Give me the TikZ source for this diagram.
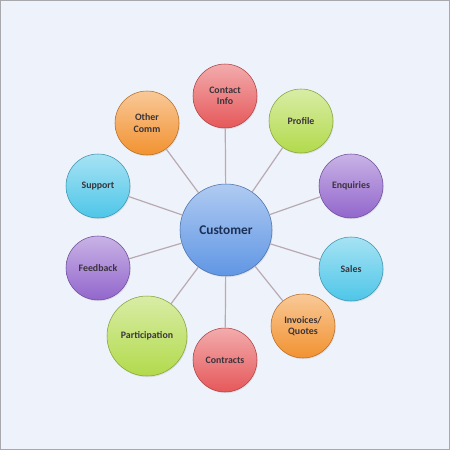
\documentclass[tikz,border=0pt]{standalone}
\usepackage{fontspec}
\setmainfont{Carlito}
\usetikzlibrary{shadows}

\definecolor{bgpanel}{RGB}{238,242,250}
\definecolor{framegray}{RGB}{168,168,172}
\definecolor{linkgray}{RGB}{184,170,178}
\definecolor{labelgray}{RGB}{58,52,60}
\definecolor{custnavy}{RGB}{28,48,86}
\definecolor{ballred}{RGB}{230,88,90}
\definecolor{balllime}{RGB}{178,218,76}
\definecolor{ballpurple}{RGB}{146,102,204}
\definecolor{ballcyan}{RGB}{78,198,232}
\definecolor{ballorange}{RGB}{242,146,48}
\definecolor{ballblue}{RGB}{96,150,228}

\tikzset{every picture/.style={line width=0.75pt}}
\tikzset{
  ball/.style={circle, inner sep=0pt, align=center, minimum size=48pt,
    top color=#1!50!white, bottom color=#1, draw=#1!75!black, line width=0.4pt,
    drop shadow={opacity=0.18, shadow xshift=0.6pt, shadow yshift=-0.9pt},
    text=labelgray, font=\bfseries\fontsize{7.4}{8.6}\selectfont},
  link/.style={draw=linkgray, line width=0.9pt}
}

\begin{document}
\begin{tikzpicture}[x=0.75pt,y=0.75pt,yscale=-1,xscale=1]
\useasboundingbox (0,0) rectangle (450,450);

%Shape: Rectangle (panel)
\draw [fill=bgpanel, draw=framegray, line width=1.1pt] (0.6,0.6) rectangle (449.4,449.4);

%Shape: Circle (hub)
\node [ball=ballblue, minimum size=69pt, text=custnavy, font=\bfseries\fontsize{10}{12}\selectfont] (customer) at (226,230) {Customer};

%Shape: Circle (outer ring)
\node [ball=ballred] (contact) at (225,96) {Contact\\Info};
\node [ball=balllime] (profile) at (301,121) {Profile};
\node [ball=ballpurple] (enquiries) at (351,186) {Enquiries};
\node [ball=ballcyan] (sales) at (351,269) {Sales};
\node [ball=ballorange] (invoices) at (303,326) {Invoices/\\Quotes};
\node [ball=ballred] (contracts) at (225,360) {Contracts};
\node [ball=balllime, minimum size=60pt] (participation) at (147,336) {Participation};
\node [ball=ballpurple] (feedback) at (98,268) {Feedback};
\node [ball=ballcyan] (support) at (98,186) {Support};
\node [ball=ballorange] (othercomm) at (147,123) {Other\\Comm};

%Straight Lines
\foreach \n in {contact,profile,enquiries,sales,invoices,contracts,participation,feedback,support,othercomm}
  \draw [link] (customer) -- (\n);
\end{tikzpicture}
\end{document}
